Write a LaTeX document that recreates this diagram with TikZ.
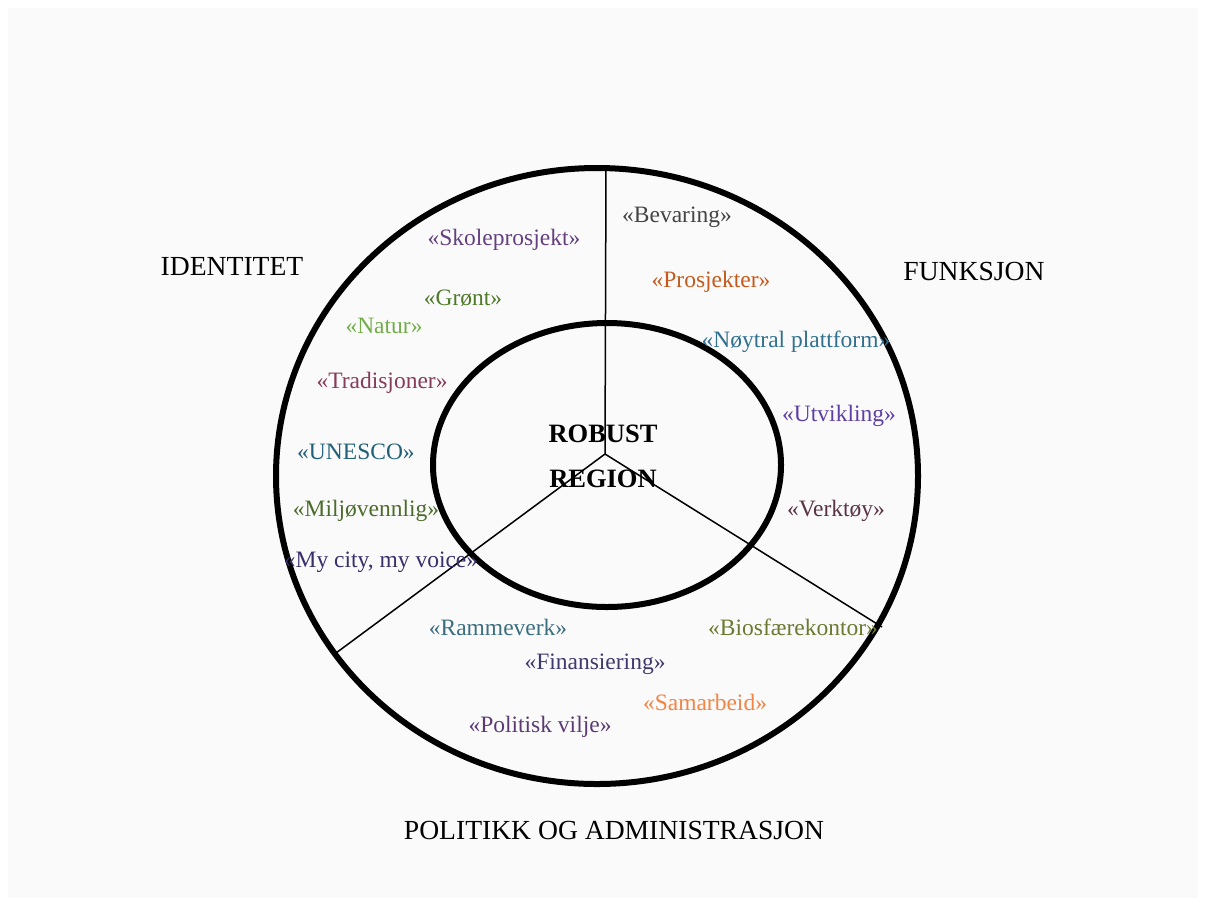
\documentclass[tikz,border=0pt]{standalone}
\usepackage{fontspec}
\setmainfont{Liberation Serif}
\definecolor{bgc}{HTML}{FAFAFA}
\definecolor{cSkole}{HTML}{654080}
\definecolor{cGront}{HTML}{4F7A2A}
\definecolor{cNatur}{HTML}{72AD48}
\definecolor{cTrad}{HTML}{843C58}
\definecolor{cUnesco}{HTML}{22607A}
\definecolor{cMiljo}{HTML}{4E6B2E}
\definecolor{cMycity}{HTML}{3A2F6B}
\definecolor{cBev}{HTML}{444444}
\definecolor{cProsj}{HTML}{C55A1C}
\definecolor{cNoyt}{HTML}{31708F}
\definecolor{cUtv}{HTML}{5E3FA6}
\definecolor{cVerk}{HTML}{5A3446}
\definecolor{cRamme}{HTML}{3B6E80}
\definecolor{cBio}{HTML}{6B7A30}
\definecolor{cFin}{HTML}{3F3A6E}
\definecolor{cSam}{HTML}{F28444}
\definecolor{cPol}{HTML}{5A3B73}
\tikzset{
  ring/.style={draw=black, line width=6pt},
  divider/.style={draw=black, line width=1.5pt},
  item/.style={font=\fontsize{23.5}{25}\selectfont, inner sep=0pt, anchor=center},
  heading/.style={font=\fontsize{27.6}{30}\selectfont, inner sep=0pt, anchor=center},
  core/.style={font=\fontsize{26.5}{45}\selectfont\bfseries, inner sep=0pt, align=center}
}
\begin{document}
\begin{tikzpicture}[x=1pt,y=-1pt]
\useasboundingbox (0,0) rectangle (1206,906);
\fill[white] (0,0) rectangle (1206,906);
\fill[bgc] (8,8) rectangle (1198,898);
% rings
\draw[ring] (597,476) ellipse [x radius=321, y radius=308];
\draw[ring] (607,465) ellipse [x radius=174, y radius=142];
% dividers
\coordinate (hub) at (605,454);
\coordinate (top) at (606,168);
\coordinate (lft) at (336,653);
\coordinate (rgt) at (882,627);
\draw[divider] (hub) -- (top);
\draw[divider] (hub) -- (lft);
\draw[divider] (hub) -- (rgt);
% core
\node[core] (robust) at (603,456) {ROBUST\\REGION};
% headings
\node[heading] (ident) at (232,266) {IDENTITET};
\node[heading] (funk) at (974,271) {FUNKSJON};
\node[heading] (polit) at (614,830) {POLITIKK OG ADMINISTRASJON};
% identitet items
\node[item, text=cSkole] (skole) at (504,240) {«Skoleprosjekt»};
\node[item, text=cGront] (gront) at (463,298) {«Grønt»};
\node[item, text=cNatur] (natur) at (384,326) {«Natur»};
\node[item, text=cTrad] (trad) at (382,383) {«Tradisjoner»};
\node[item, text=cUnesco] (unesco) at (356,452) {«UNESCO»};
\node[item, text=cMiljo] (miljo) at (366,511) {«Miljøvennlig»};
\node[item, text=cMycity] (mycity) at (381,562) {«My city, my voice»};
% funksjon items
\node[item, text=cBev] (bev) at (677,217) {«Bevaring»};
\node[item, text=cProsj] (prosj) at (711,282) {«Prosjekter»};
\node[item, text=cNoyt] (noyt) at (796,342) {«Nøytral plattform»};
\node[item, text=cUtv] (utv) at (839,416) {«Utvikling»};
\node[item, text=cVerk] (verk) at (836,511) {«Verktøy»};
% politikk items
\node[item, text=cRamme] (ramme) at (498,627) {«Rammeverk»};
\node[item, text=cBio] (bio) at (793,627) {«Biosfærekontor»};
\node[item, text=cFin] (fin) at (595,664) {«Finansiering»};
\node[item, text=cSam] (sam) at (705,702) {«Samarbeid»};
\node[item, text=cPol] (pol) at (540,727) {«Politisk vilje»};
\end{tikzpicture}
\end{document}
